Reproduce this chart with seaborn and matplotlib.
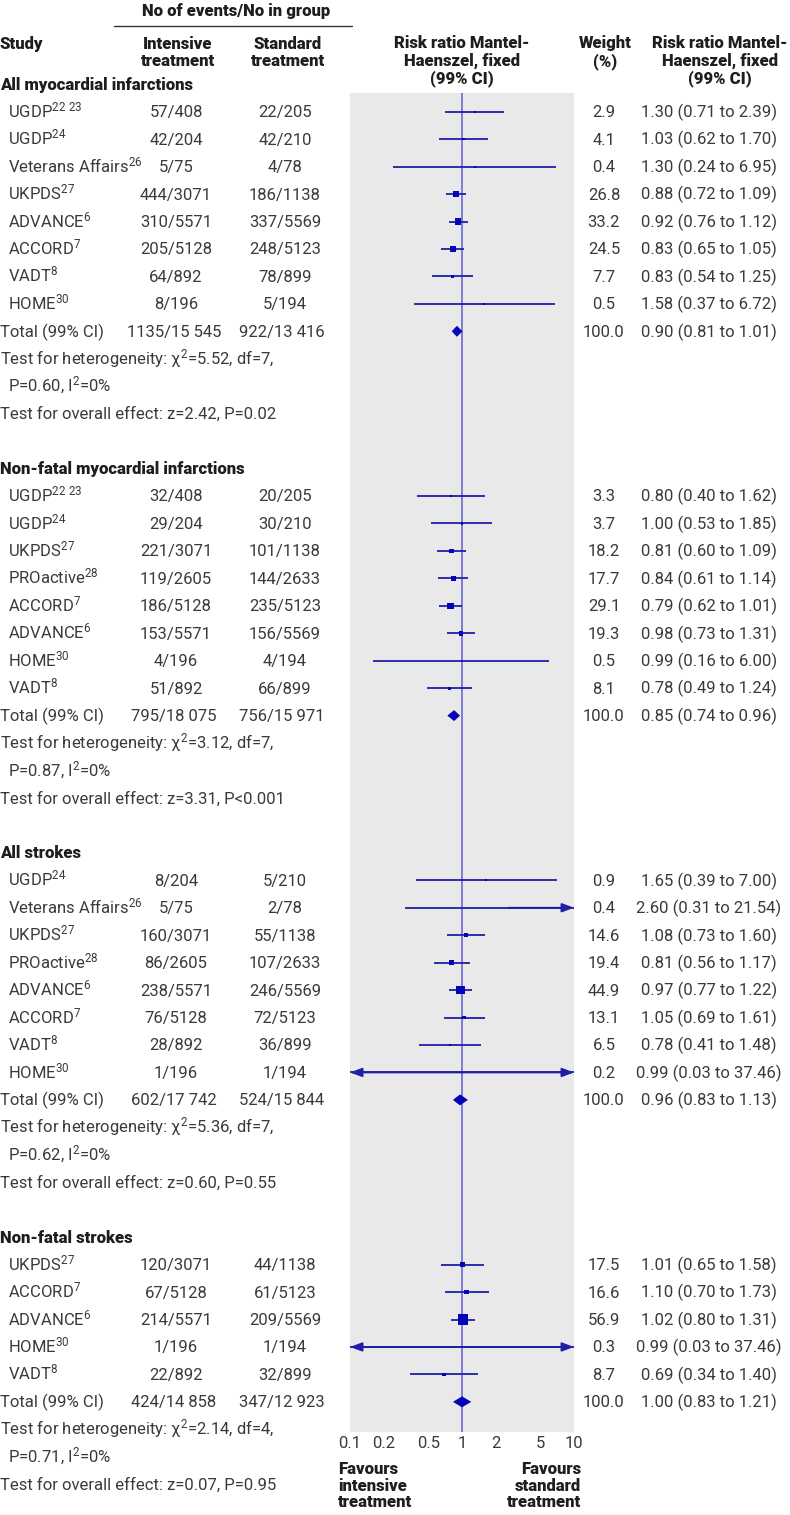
import numpy as np
import matplotlib
matplotlib.use('Agg')
import matplotlib.pyplot as plt
import matplotlib.transforms as mtransforms
from matplotlib.lines import Line2D
import seaborn as sns

# ---- data ----
section_titles = ['All myocardial infarctions', 'Non-fatal myocardial infarctions',
                  'All strokes', 'Non-fatal strokes']
study_section = [0] * 8 + [1] * 8 + [2] * 8 + [3] * 5
study_names = ['UGDP', 'UGDP', 'Veterans Affairs', 'UKPDS', 'ADVANCE', 'ACCORD', 'VADT', 'HOME',
               'UGDP', 'UGDP', 'UKPDS', 'PROactive', 'ACCORD', 'ADVANCE', 'HOME', 'VADT',
               'UGDP', 'Veterans Affairs', 'UKPDS', 'PROactive', 'ADVANCE', 'ACCORD', 'VADT', 'HOME',
               'UKPDS', 'ACCORD', 'ADVANCE', 'HOME', 'VADT']
study_refs = ['22 23', '24', '26', '27', '6', '7', '8', '30',
              '22 23', '24', '27', '28', '7', '6', '30', '8',
              '24', '26', '27', '28', '6', '7', '8', '30',
              '27', '7', '6', '30', '8']
events_intensive = ['57/408', '42/204', '5/75', '444/3071', '310/5571', '205/5128', '64/892', '8/196',
                    '32/408', '29/204', '221/3071', '119/2605', '186/5128', '153/5571', '4/196', '51/892',
                    '8/204', '5/75', '160/3071', '86/2605', '238/5571', '76/5128', '28/892', '1/196',
                    '120/3071', '67/5128', '214/5571', '1/196', '22/892']
events_standard = ['22/205', '42/210', '4/78', '186/1138', '337/5569', '248/5123', '78/899', '5/194',
                   '20/205', '30/210', '101/1138', '144/2633', '235/5123', '156/5569', '4/194', '66/899',
                   '5/210', '2/78', '55/1138', '107/2633', '246/5569', '72/5123', '36/899', '1/194',
                   '44/1138', '61/5123', '209/5569', '1/194', '32/899']
weights = [2.9, 4.1, 0.4, 26.8, 33.2, 24.5, 7.7, 0.5,
           3.3, 3.7, 18.2, 17.7, 29.1, 19.3, 0.5, 8.1,
           0.9, 0.4, 14.6, 19.4, 44.9, 13.1, 6.5, 0.2,
           17.5, 16.6, 56.9, 0.3, 8.7]
rr = [1.30, 1.03, 1.30, 0.88, 0.92, 0.83, 0.83, 1.58,
      0.80, 1.00, 0.81, 0.84, 0.79, 0.98, 0.99, 0.78,
      1.65, 2.60, 1.08, 0.81, 0.97, 1.05, 0.78, 0.99,
      1.01, 1.10, 1.02, 0.99, 0.69]
ci_low = [0.71, 0.62, 0.24, 0.72, 0.76, 0.65, 0.54, 0.37,
          0.40, 0.53, 0.60, 0.61, 0.62, 0.73, 0.16, 0.49,
          0.39, 0.31, 0.73, 0.56, 0.77, 0.69, 0.41, 0.03,
          0.65, 0.70, 0.80, 0.03, 0.34]
ci_high = [2.39, 1.70, 6.95, 1.09, 1.12, 1.05, 1.25, 6.72,
           1.62, 1.85, 1.09, 1.14, 1.01, 1.31, 6.00, 1.24,
           7.00, 21.54, 1.60, 1.17, 1.22, 1.61, 1.48, 37.46,
           1.58, 1.73, 1.31, 37.46, 1.40]
total_intensive = ['1135/15 545', '795/18 075', '602/17 742', '424/14 858']
total_standard = ['922/13 416', '756/15 971', '524/15 844', '347/12 923']
total_rr = [0.90, 0.85, 0.96, 1.00]
total_low = [0.81, 0.74, 0.83, 0.83]
total_high = [1.01, 0.96, 1.13, 1.21]
het_chi2 = ['5.52', '3.12', '5.36', '2.14']
het_df = ['7', '7', '7', '4']
het_p = ['0.60', '0.87', '0.62', '0.71']
overall_z = ['2.42', '3.31', '0.60', '0.07']
overall_p = ['=0.02', '<0.001', '=0.55', '=0.95']
x_ticks = [0.1, 0.2, 0.5, 1, 2, 5, 10]
x_tick_labels = ['0.1', '0.2', '0.5', '1', '2', '5', '10']

# ---- style ----
sns.set_theme(style='white')
FONT = 'Roboto'
plt.rcParams['font.family'] = [FONT, 'DejaVu Sans']
plt.rcParams['mathtext.fontset'] = 'custom'
plt.rcParams['mathtext.rm'] = FONT
plt.rcParams['mathtext.it'] = FONT + ':italic'
plt.rcParams['mathtext.bf'] = FONT + ':bold'

FS = 12
BODY = '#3a3a3a'
HEAD = '#1e1e1e'
LINE_BLUE = '#1f1fa6'
MARK_BLUE = '#0505b8'
REF_BLUE = '#7c7cd8'
W, H = 790, 1515
Y0, PITCH = 111.7, 27.45  # pixel y of first study row, row pitch


def prow(py):
    return (py - Y0) / PITCH


fig = plt.figure(figsize=(W / 100, H / 100), dpi=100)
ax = fig.add_axes([350 / W, 1 - 1432 / H, 224 / W, (1432 - 92.7) / H])
ax.set_facecolor('#e9e9e9')
ax.set_xscale('log')
ax.set_xlim(0.1, 10)
ax.set_ylim(prow(1432), prow(92.7))
for sp in ax.spines.values():
    sp.set_visible(False)
ax.set_yticks([])
ax.set_xticks(x_ticks)
ax.set_xticklabels(x_tick_labels)
ax.xaxis.set_minor_locator(matplotlib.ticker.NullLocator())
ax.tick_params(axis='x', direction='in', length=4, width=1, color='#fafafa',
               labelsize=FS, labelcolor=BODY, pad=3)
ax.axvline(1, color=REF_BLUE, lw=1.4, zorder=1)

trans = mtransforms.blended_transform_factory(fig.transFigure, ax.transData)


def put(px, row, s, ha='left', bold=False):
    ax.text(px / W, row + 0.2, s, transform=trans, ha=ha, va='baseline',
            fontsize=FS, fontweight='heavy' if bold else 'normal',
            color=HEAD if bold else BODY)


# ---- headers ----
ax.text(236 / W, prow(11), 'No of events/No in group', transform=trans, ha='center',
        va='center', fontsize=FS, fontweight='heavy', color=HEAD)
fig.add_artist(Line2D([114 / W, 352 / W], [1 - 26 / H] * 2, transform=fig.transFigure,
                      color='#333333', lw=1))
put(0, prow(44), 'Study', bold=True)
put(178, prow(44), 'Intensive', ha='center', bold=True)
put(178, prow(61), 'treatment', ha='center', bold=True)
put(288, prow(44), 'Standard', ha='center', bold=True)
put(288, prow(61), 'treatment', ha='center', bold=True)
for i, s in enumerate(['Risk ratio Mantel-', 'Haenszel, fixed', '(99% CI)']):
    put(462, prow(43 + 17.5 * i), s, ha='center', bold=True)
    put(720, prow(43 + 17.5 * i), s, ha='center', bold=True)
put(605, prow(43), 'Weight', ha='center', bold=True)
put(605, prow(60.5), '(%)', ha='center', bold=True)

# ---- rows ----
study_rows = []
start = -1
for k, title in enumerate(section_titles):
    idx = [i for i, s in enumerate(study_section) if s == k]
    put(0, start, title, bold=True)
    for j, i in enumerate(idx):
        r = start + 1 + j
        study_rows.append(r)
        put(8, r, study_names[i] + r'$^{%s}$' % study_refs[i].replace(' ', r'\ '))
        put(176, r, events_intensive[i], ha='center')
        put(285, r, events_standard[i], ha='center')
        put(604, r, f'{weights[i]:.1f}', ha='center')
        put(709, r, f'{rr[i]:.2f} ({ci_low[i]:.2f} to {ci_high[i]:.2f})', ha='center')
    rt = start + len(idx) + 1
    put(0, rt, 'Total (99% CI)')
    put(174, rt, total_intensive[k], ha='center')
    put(282, rt, total_standard[k], ha='center')
    put(604, rt, '100.0', ha='center')
    put(709, rt, f'{total_rr[k]:.2f} ({total_low[k]:.2f} to {total_high[k]:.2f})', ha='center')
    put(0, rt + 1, 'Test for heterogeneity: \u03c7$^2$=%s, df=%s,' % (het_chi2[k], het_df[k]))
    put(8, rt + 2, 'P=%s, I$^2$=0%%' % het_p[k])
    put(0, rt + 3, 'Test for overall effect: z=%s, P%s' % (overall_z[k], overall_p[k]))
    # pooled diamond
    h = 0.2
    ax.fill([total_low[k], total_rr[k], total_high[k], total_rr[k]],
            [rt, rt - h, rt, rt + h], color=MARK_BLUE, lw=0, zorder=4)
    start = rt + 5

study_rows = np.array(study_rows)
w = np.array(weights)
lo = np.array(ci_low)
hi = np.array(ci_high)
est = np.array(rr)

ax.hlines(study_rows, lo, hi, color=LINE_BLUE, lw=1.3, zorder=2)
side_pt = (1.8 + 0.15 * w) * 0.72
sns.scatterplot(x=est, y=study_rows, marker='s', s=side_pt ** 2, color=MARK_BLUE,
                linewidth=0, ax=ax, zorder=3, legend=False)

arrow = dict(arrowstyle='-|>,head_length=0.8,head_width=0.3', color=LINE_BLUE, lw=1.3,
             shrinkA=0, shrinkB=0, mutation_scale=9)
for r, e, a, b in zip(study_rows, est, lo, hi):
    if b > 10:
        ax.annotate('', xy=(10, r), xytext=(e, r), arrowprops=arrow, annotation_clip=False)
    if a < 0.1:
        ax.annotate('', xy=(0.1, r), xytext=(e, r), arrowprops=arrow, annotation_clip=False)

ax.set_xlabel('')
ax.set_ylabel('')

# ---- favours labels ----
ax.text(338 / W, prow(1461), 'Favours\nintensive\ntreatment', transform=trans, ha='left',
        va='top', fontsize=FS, fontweight='heavy', color=HEAD, linespacing=1.05)
ax.text(581 / W, prow(1461), 'Favours\nstandard\ntreatment', transform=trans, ha='right',
        va='top', fontsize=FS, fontweight='heavy', color=HEAD, linespacing=1.05,
        multialignment='right')

fig.savefig('out.png', dpi=100, facecolor='white')
